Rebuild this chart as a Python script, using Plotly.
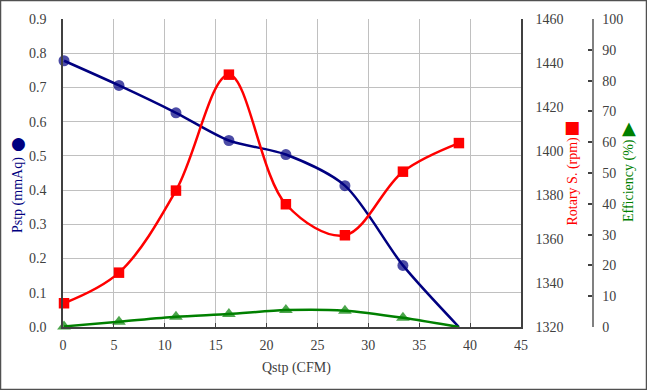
import plotly.graph_objects as go

Q = [0.1, 5.5, 11.1, 16.3, 21.9, 27.7, 33.4, 38.9]
pstp = [0.778, 0.706, 0.626, 0.545, 0.504, 0.413, 0.180, 0.0]
rpm = [1330.8, 1344.7, 1382.0, 1434.7, 1375.8, 1361.7, 1390.6, 1403.6]
eff = [0.2, 1.7, 3.3, 4.2, 5.5, 5.3, 3.0, 0.0]

x_ticks = list(range(0, 50, 5))
y1_ticks = [i / 10 for i in range(10)]
y1_labels = [f"{v:.1f}" for v in y1_ticks]
y2_ticks = list(range(1320, 1480, 20))
y3_ticks = list(range(0, 110, 10))

FONT = "Liberation Serif, DejaVu Serif, serif"
W, H = 647, 390
L, R, T, B = 63, 30, 19, 63
PW = W - L - R
PH = H - T - B
plot_right = 521


def px(xp):
    return (xp - L) / PW


def py(yp):
    return (H - B - yp) / PH


NAVY = "#000080"
RED = "#ff0000"
GREEN = "#008000"

fig = go.Figure()
fig.add_trace(go.Scatter(
    x=Q, y=pstp, mode="lines+markers", yaxis="y",
    line=dict(color=NAVY, width=2.5, shape="spline", smoothing=0.8),
    marker=dict(symbol="circle", size=[11] * 7 + [0], color=NAVY,
                line=dict(width=0)),
    cliponaxis=False, showlegend=False))
fig.add_trace(go.Scatter(
    x=Q, y=rpm, mode="lines+markers", yaxis="y2",
    line=dict(color=RED, width=2.5, shape="spline", smoothing=1.0),
    marker=dict(symbol="square", size=10.5, color=RED, line=dict(width=0)),
    cliponaxis=False, showlegend=False))
fig.add_trace(go.Scatter(
    x=Q, y=eff, mode="lines+markers", yaxis="y3",
    line=dict(color=GREEN, width=2.5, shape="spline", smoothing=0.8),
    marker=dict(symbol="triangle-up", size=[12] * 7 + [0], color=GREEN,
                line=dict(width=0)),
    cliponaxis=False, showlegend=False))

tickfont = dict(family=FONT, size=14, color="#404040")
grid = "#c0c0c0"
axline = "#404040"


def ann(text, x, y, color, angle=0, size=14, family=FONT):
    return dict(text=text, xref="paper", yref="paper", x=px(x), y=py(y),
                xanchor="center", yanchor="middle", showarrow=False,
                textangle=angle,
                font=dict(family=family, size=size, color=color))


fig.update_layout(
    width=W, height=H,
    margin=dict(l=L, r=R, t=T, b=B),
    paper_bgcolor="white", plot_bgcolor="white",
    font=dict(family=FONT, size=14, color="#404040"),
    xaxis=dict(domain=[0, px(plot_right)], range=[0, 45], tickvals=x_ticks,
               showgrid=True, gridcolor=grid, gridwidth=1,
               showline=True, linecolor=axline, linewidth=1.5,
               ticks="inside", ticklen=4, tickcolor=axline,
               tickfont=tickfont, zeroline=False, automargin=False,
               ticklabelstandoff=4),
    yaxis=dict(range=[0, 0.9], tickvals=y1_ticks, ticktext=y1_labels,
               showgrid=True, gridcolor=grid, gridwidth=1,
               showline=True, linecolor=axline, linewidth=1.5,
               ticks="", tickfont=tickfont, zeroline=False,
               automargin=False, ticklabelstandoff=12),
    yaxis2=dict(range=[1320, 1460], tickvals=y2_ticks, overlaying="y",
                side="right", anchor="x", showgrid=False,
                showline=True, linecolor=axline, linewidth=1.5,
                ticks="", tickfont=tickfont, zeroline=False,
                automargin=False, ticklabelstandoff=10),
    yaxis3=dict(range=[0, 100], tickvals=y3_ticks, overlaying="y",
                side="right", anchor="free", position=px(592.7),
                showgrid=False, showline=True, linecolor="#808080",
                linewidth=1.5, ticks="inside", ticklen=4,
                tickcolor="#404040", tickwidth=1.5,
                tickfont=tickfont, zeroline=False, automargin=False,
                ticklabelstandoff=6),
    annotations=[
        ann("Qstp (CFM)", 296, 368, "#404040"),
        ann("Pstp (mmAq)", 18, 195, NAVY, -90),
        ann("Rotary S. (rpm)", 572.5, 181, RED, -90),
        ann("Efficiency (%)", 629, 181, GREEN, -90),
        ann("●", 18, 143, NAVY, size=17, family="DejaVu Sans"),
        ann("■", 572, 127, RED, size=17, family="DejaVu Sans"),
        ann("▲", 629, 127, GREEN, size=18, family="DejaVu Sans"),
    ],
    shapes=[
        dict(type="rect", xref="paper", yref="paper",
             x0=px(0.5), x1=px(646.5), y0=py(389.5), y1=py(0.5),
             line=dict(color="#505050", width=1.5), layer="above"),
    ],
)

fig.write_html(
    "out.html",
    config={"displayModeBar": False},
    post_script="document.body.style.margin='0';document.body.style.padding='0';",
)
